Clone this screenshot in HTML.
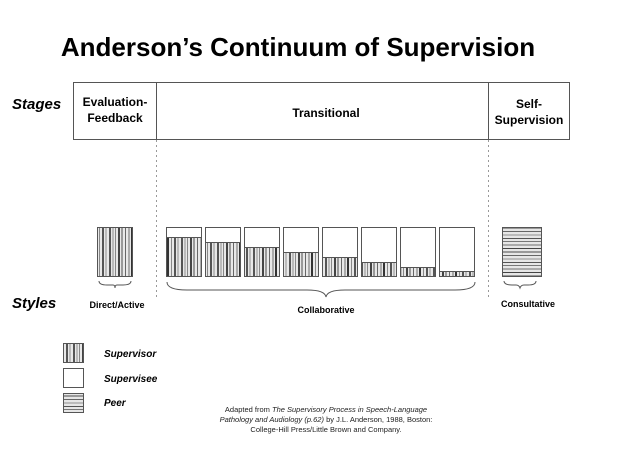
<!DOCTYPE html>
<html><head><meta charset="utf-8"><style>
html,body{margin:0;padding:0;background:#fff;}
svg{display:block;font-family:"Liberation Sans",Arial,sans-serif;}
</style></head><body>
<svg width="618" height="452" viewBox="0 0 618 452" xmlns="http://www.w3.org/2000/svg">
<defs>
<pattern id="v" patternUnits="userSpaceOnUse" x="0" y="0" width="36" height="10">
<rect width="36" height="10" fill="#e8e8e8"/>
<rect x="1" width="2" height="10" fill="#555"/><rect x="4" width="2" height="10" fill="#bbb"/>
<rect x="7" width="1" height="10" fill="#888"/><rect x="10" width="2" height="10" fill="#444"/>
<rect x="13" width="2" height="10" fill="#999"/><rect x="17" width="1" height="10" fill="#666"/>
<rect x="20" width="2" height="10" fill="#aaa"/><rect x="23" width="2" height="10" fill="#333"/>
<rect x="27" width="1" height="10" fill="#888"/><rect x="30" width="2" height="10" fill="#555"/>
<rect x="33" width="2" height="10" fill="#bbb"/>
</pattern>
<pattern id="h" patternUnits="userSpaceOnUse" x="0" y="0" width="10" height="24">
<rect width="10" height="24" fill="#e6e6e6"/>
<rect y="1" width="10" height="1" fill="#777"/><rect y="4" width="10" height="2" fill="#aaa"/>
<rect y="8" width="10" height="1" fill="#444"/><rect y="11" width="10" height="2" fill="#999"/>
<rect y="15" width="10" height="1" fill="#666"/><rect y="18" width="10" height="2" fill="#bbb"/>
<rect y="22" width="10" height="1" fill="#555"/>
</pattern>
</defs>
<text x="298" y="56" text-anchor="middle" font-size="26" font-weight="bold">Anderson’s Continuum of Supervision</text>
<text x="12" y="109" font-size="15" font-weight="bold" font-style="italic">Stages</text>
<rect x="73.5" y="82.5" width="496" height="57" fill="none" stroke="#555" stroke-width="1"/>
<line x1="156.5" y1="82" x2="156.5" y2="140" stroke="#555"/>
<line x1="488.5" y1="82" x2="488.5" y2="140" stroke="#555"/>
<text x="115" y="106" text-anchor="middle" font-size="12" font-weight="bold">Evaluation-</text>
<text x="115" y="122" text-anchor="middle" font-size="12" font-weight="bold">Feedback</text>
<text x="326" y="117" text-anchor="middle" font-size="12" font-weight="bold">Transitional</text>
<text x="529" y="108" text-anchor="middle" font-size="12" font-weight="bold">Self-</text>
<text x="529" y="124" text-anchor="middle" font-size="12" font-weight="bold">Supervision</text>
<line x1="156.5" y1="140" x2="156.5" y2="298" stroke="#999" stroke-dasharray="2,3"/>
<line x1="488.5" y1="140" x2="488.5" y2="298" stroke="#999" stroke-dasharray="2,3"/>
<rect x="97.5" y="227.5" width="35" height="49" fill="url(#v)" stroke="#555"/>
<g stroke="#555" fill="none">
<rect x="166.5" y="227.5" width="35" height="49" fill="url(#v)"/><rect x="166.5" y="227.5" width="35" height="10" fill="#fff"/>
<rect x="205.5" y="227.5" width="35" height="49" fill="url(#v)"/><rect x="205.5" y="227.5" width="35" height="15" fill="#fff"/>
<rect x="244.5" y="227.5" width="35" height="49" fill="url(#v)"/><rect x="244.5" y="227.5" width="35" height="20" fill="#fff"/>
<rect x="283.5" y="227.5" width="35" height="49" fill="url(#v)"/><rect x="283.5" y="227.5" width="35" height="25" fill="#fff"/>
<rect x="322.5" y="227.5" width="35" height="49" fill="url(#v)"/><rect x="322.5" y="227.5" width="35" height="30" fill="#fff"/>
<rect x="361.5" y="227.5" width="35" height="49" fill="url(#v)"/><rect x="361.5" y="227.5" width="35" height="35" fill="#fff"/>
<rect x="400.5" y="227.5" width="35" height="49" fill="url(#v)"/><rect x="400.5" y="227.5" width="35" height="40" fill="#fff"/>
<rect x="439.5" y="227.5" width="35" height="49" fill="url(#v)"/><rect x="439.5" y="227.5" width="35" height="44" fill="#fff"/>
<rect x="502.5" y="227.5" width="39" height="49" fill="url(#h)"/>
<path d="M99 281 q0 4 8 4 h6 q2 0 2 3 q0 -3 2 -3 h6 q8 0 8 -4"/>
<path d="M167 282 q0 8 20 8 h120 q18 0 19 7 q1 -7 19 -7 h110 q20 0 20 -8"/>
<path d="M504 281 q0 4 8 4 h4 q3 0 4 3 q1 -3 4 -3 h4 q8 0 8 -4"/>
</g>
<text x="12" y="308" font-size="15" font-weight="bold" font-style="italic">Styles</text>
<text x="117" y="308" text-anchor="middle" font-size="9" font-weight="bold">Direct/Active</text>
<text x="326" y="313" text-anchor="middle" font-size="9" font-weight="bold">Collaborative</text>
<text x="528" y="307" text-anchor="middle" font-size="9" font-weight="bold">Consultative</text>
<rect x="63.5" y="343.5" width="20" height="19" fill="url(#v)" stroke="#555"/>
<rect x="63.5" y="368.5" width="20" height="19" fill="#fff" stroke="#555"/>
<rect x="63.5" y="393.5" width="20" height="19" fill="url(#h)" stroke="#555"/>
<text x="104" y="357" font-size="10" font-weight="bold" font-style="italic">Supervisor</text>
<text x="104" y="382" font-size="10" font-weight="bold" font-style="italic">Supervisee</text>
<text x="104" y="406" font-size="10" font-weight="bold" font-style="italic">Peer</text>
<g font-size="7.5" text-anchor="middle" fill="#222">
<text x="326" y="412">Adapted from <tspan font-style="italic">The Supervisory Process in Speech-Language</tspan></text>
<text x="326" y="422"><tspan font-style="italic">Pathology and Audiology (p.62)</tspan> by J.L. Anderson, 1988, Boston:</text>
<text x="326" y="432">College-Hill Press/Little Brown and Company.</text>
</g>
</svg>
</body></html>
